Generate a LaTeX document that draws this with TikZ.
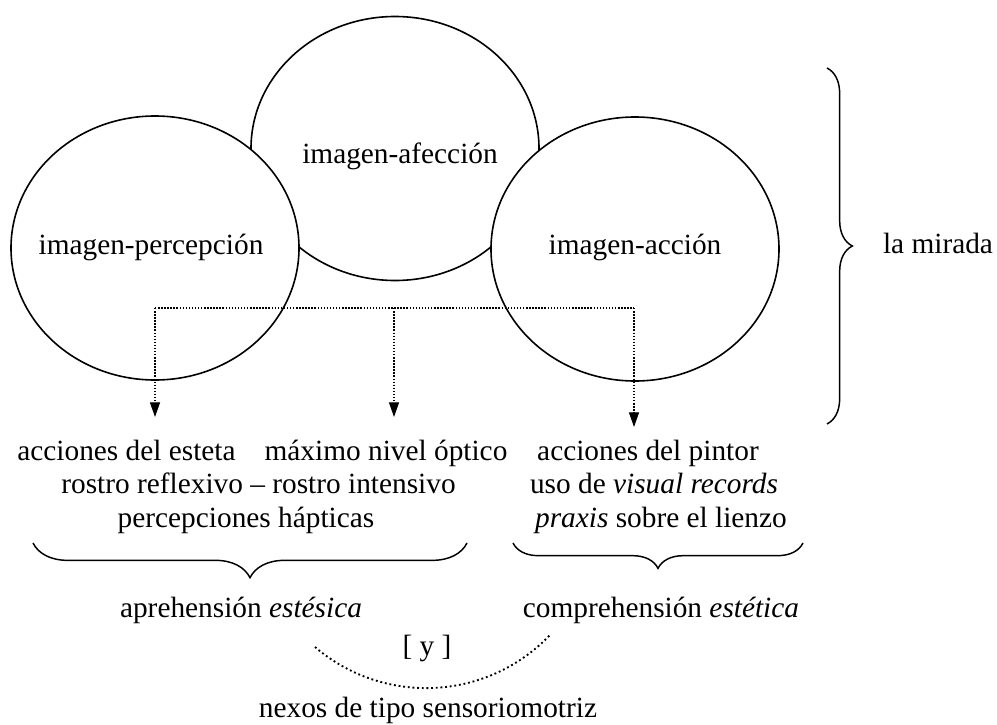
\documentclass[tikz,border=0pt]{standalone}
\usepackage{fontspec}
\setmainfont{Liberation Serif}
\usetikzlibrary{shapes.geometric,arrows.meta,decorations.pathreplacing}
\begin{document}
\begin{tikzpicture}[x=0.75pt,y=-0.75pt,
  lens/.style={ellipse,draw,fill=white,line width=1.2pt,minimum width=216pt,minimum height=198pt,inner sep=0pt,outer sep=0pt},
  txt/.style={anchor=base,inner sep=0pt,font=\fontsize{22}{25}\selectfont},
  feed/.style={line width=0.9pt,dash pattern=on 1.1pt off 1.2pt},
  feedarrow/.style={feed,-{Triangle[width=7.5pt,length=11pt]}},
  bracket/.style={decorate,line width=1.1pt,decoration={brace,amplitude=#1}},
  nexus/.style={line width=1.4pt,dash pattern=on 1.4pt off 2.1pt}]
\useasboundingbox (0,0) rectangle (997,725);

% the three images: the middle one lies behind the two others
\node[lens] (afecc) at (395,148.5) {};
\node[lens] (percep) at (155,248) {};
\node[lens] (accion) at (635,249) {};
\node[txt] (tpercep) at (151,254) {imagen-percepción};
\node[txt] (tafecc) at (400,163) {imagen-afección};
\node[txt] (taccion) at (635,254) {imagen-acción};

% brace gathering the three images
\coordinate (mTop) at (827,68);
\coordinate (mBot) at (827,424);
\draw[bracket=19pt] (mTop) -- (mBot);
\node[txt] (mirada) at (938,253) {la mirada};

% dotted distribution lines
\coordinate (jL) at (155,308);
\coordinate (jM) at (394,308);
\coordinate (jR) at (634,308);
\coordinate (tL) at (155,417);
\coordinate (tM) at (394,417);
\coordinate (tR) at (634,427);
\draw[feed] (jL) -- (jR);
\draw[feedarrow] (jL) -- (tL);
\draw[feedarrow] (jM) -- (tM);
\draw[feedarrow] (jR) -- (tR);

% descriptions
\node[txt] (esteta) at (126.5,460) {acciones del esteta};
\node[txt] (optico) at (386,460) {máximo nivel óptico};
\node[txt] (pintor) at (648,460) {acciones del pintor};
\node[txt] (rostro) at (258.5,493) {rostro reflexivo – rostro intensivo};
\node[txt] (visual) at (654,493) {uso de \textit{visual records}};
\node[txt] (hapticas) at (246,527) {percepciones hápticas};
\node[txt] (praxis) at (661,527) {\textit{praxis} sobre el lienzo};

% lower braces
\coordinate (bLr) at (467,543);
\coordinate (bLl) at (33,543);
\coordinate (bRr) at (803,543);
\coordinate (bRl) at (513,543);
\draw[bracket=26pt] (bLr) -- (bLl);
\draw[bracket=19pt] (bRr) -- (bRl);

\node[txt] (aprehension) at (241,617) {aprehensión \textit{estésica}};
\node[txt] (comprehension) at (661,617) {comprehensión \textit{estética}};
\node[txt] (ylink) at (427,655) {[ y ]};

% dotted arc joining both
\coordinate (arcL) at (315,647);
\coordinate (arcR) at (550,635);
\draw[nexus] (arcL) .. controls (384,706) and (487,701) .. (arcR);
\node[txt] (nexos) at (428,717) {nexos de tipo sensoriomotriz};
\end{tikzpicture}
\end{document}
